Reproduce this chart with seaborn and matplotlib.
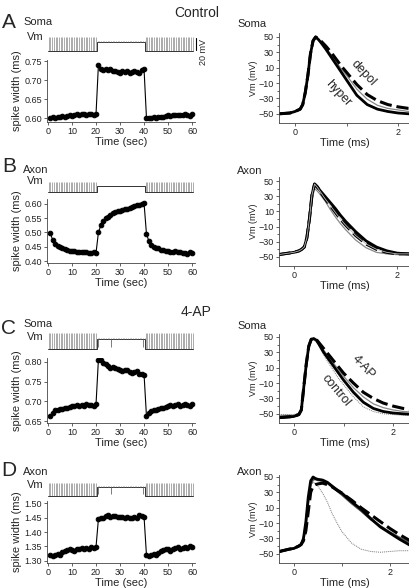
import numpy as np
import matplotlib
matplotlib.use("Agg")
import matplotlib.pyplot as plt
import seaborn as sns

sns.set_style("ticks")
plt.rcParams['font.family'] = ['Liberation Sans', 'DejaVu Sans']

W, H = 410, 588

# ---- spike width vs time (1 sample per second) ----
sec = np.arange(1, 61)

width_A = [0.600, 0.602, 0.601, 0.604, 0.603, 0.605, 0.604, 0.606, 0.607, 0.606,
           0.608, 0.610, 0.609, 0.610, 0.610, 0.609, 0.611, 0.610, 0.608, 0.610,
           0.740, 0.730, 0.726, 0.729, 0.727, 0.728, 0.725, 0.724, 0.722, 0.720,
           0.724, 0.722, 0.723, 0.720, 0.722, 0.723, 0.721, 0.720, 0.726, 0.728,
           0.600, 0.599, 0.601, 0.603, 0.600, 0.602, 0.604, 0.603, 0.606, 0.607,
           0.605, 0.608, 0.609, 0.608, 0.608, 0.607, 0.610, 0.607, 0.606, 0.610]

width_B = [0.497, 0.473, 0.460, 0.452, 0.449, 0.447, 0.443, 0.440, 0.436, 0.434,
           0.434, 0.433, 0.432, 0.431, 0.430, 0.430, 0.429, 0.427, 0.430, 0.428,
           0.500, 0.525, 0.540, 0.550, 0.555, 0.562, 0.568, 0.572, 0.574, 0.576,
           0.579, 0.582, 0.584, 0.587, 0.590, 0.593, 0.595, 0.596, 0.600, 0.602,
           0.495, 0.470, 0.457, 0.450, 0.447, 0.444, 0.440, 0.438, 0.436, 0.434,
           0.433, 0.432, 0.434, 0.431, 0.430, 0.429, 0.428, 0.426, 0.430, 0.428]

width_C = [0.662, 0.670, 0.677, 0.678, 0.680, 0.681, 0.682, 0.684, 0.685, 0.687,
           0.688, 0.690, 0.689, 0.690, 0.688, 0.692, 0.691, 0.690, 0.688, 0.692,
           0.806, 0.805, 0.797, 0.795, 0.790, 0.785, 0.788, 0.785, 0.782, 0.779,
           0.776, 0.780, 0.779, 0.774, 0.771, 0.775, 0.778, 0.770, 0.769, 0.768,
           0.662, 0.670, 0.676, 0.678, 0.679, 0.680, 0.682, 0.684, 0.686, 0.688,
           0.690, 0.689, 0.690, 0.692, 0.688, 0.690, 0.692, 0.691, 0.689, 0.692]

width_D = [1.320, 1.318, 1.322, 1.325, 1.322, 1.330, 1.335, 1.338, 1.342, 1.338,
           1.335, 1.340, 1.343, 1.345, 1.340, 1.345, 1.342, 1.348, 1.346, 1.348,
           1.445, 1.450, 1.448, 1.455, 1.460, 1.452, 1.456, 1.455, 1.453, 1.452,
           1.451, 1.450, 1.452, 1.448, 1.450, 1.452, 1.448, 1.460, 1.455, 1.452,
           1.320, 1.318, 1.322, 1.325, 1.322, 1.328, 1.335, 1.338, 1.342, 1.340,
           1.335, 1.340, 1.345, 1.348, 1.342, 1.345, 1.348, 1.345, 1.350, 1.348]

# ---- Vm traces (mV levels): hyper baseline, depol baseline, spike tops ----
stim_period = 0.7
vm_hyper = -70
vm_depol = {'A': -55, 'B': -60, 'C': -53, 'D': -55}
vm_peak = {'A': -47, 'B': -53, 'C': -43, 'D': -48}
vm_small = {'A': 2.5, 'B': 0, 'C': 1.5, 'D': 1.5}
dip_t = {'A': [], 'B': [], 'C': [20.8, 26.2, 39.4], 'D': [20.8, 26.2, 39.4]}

# ---- action potential waveforms ----
t_ap = [-0.3, -0.1, 0.0, 0.1, 0.15, 0.2, 0.25, 0.3, 0.35, 0.4, 0.45, 0.5,
        0.6, 0.7, 0.8, 0.9, 1.0, 1.2, 1.4, 1.6, 1.8, 2.0, 2.2, 2.45]

ap_A_hyper = [-50, -49, -47, -44, -38, -22, 0, 28, 45, 50, 47, 43,
              34, 24, 14, 4, -6, -26, -38, -44, -47, -49, -50, -51]
ap_A_depol = [-50, -49, -47, -44, -38, -22, 0, 28, 45, 50, 48, 45,
              38, 30, 21, 12, 4, -12, -25, -33, -38, -41, -43, -44]
ap_A_mid = [-50, -49, -47, -44, -38, -22, 0, 28, 45, 50, 47, 44,
            36, 27, 18, 8, 0, -18, -31, -39, -43, -45, -47, -48]

ap_B_slow = [-47, -45, -44, -42, -40, -37, -25, 0, 32, 46, 43, 38,
             30, 22, 14, 5, -3, -17, -29, -37, -42, -45, -46, -47]
ap_B_mid = [-47, -45, -44, -42, -40, -37, -25, 0, 32, 46, 42, 37,
            27, 18, 9, 0, -8, -22, -33, -40, -44, -46, -46, -47]
ap_B_fast = [-47, -45, -44, -42, -40, -37, -27, -4, 26, 40, 37, 33,
             24, 13, 3, -6, -14, -28, -38, -44, -46, -47, -47, -47]

ap_C_control = [-55, -54, -53.5, -51, -45, -15, 15, 38, 47, 48, 46, 41,
                30, 21, 12, 3, -6, -22, -35, -43, -47, -49, -50, -51]
ap_C_4ap = [-55, -54, -53.5, -51, -45, -15, 15, 38, 47, 48, 47, 43,
            35, 27, 19, 11, 3, -10, -22, -30, -36, -40, -43, -45]
ap_C_mid = [-52, -52, -52, -50, -45, -16, 14, 37, 46, 48, 46, 42,
            33, 24, 16, 7, -1, -16, -28, -37, -42, -45, -47, -48]
ap_C_narrow = [-51, -51, -51, -49, -44, -18, 12, 35, 45, 46, 44, 40,
               27, 16, 6, -4, -12, -28, -41, -47, -50, -51, -52, -52]

ap_D_solid = [-47, -44, -43, -40, -38, -30, -8, 24, 45, 50, 48, 47,
              46, 43, 38, 33, 29, 18, 8, -4, -15, -23, -31, -40]
ap_D_dash = [-47, -44, -43, -40, -38, -33, -20, 5, 30, 38, 40, 41,
             42, 40, 37, 33, 29, 20, 10, 1, -8, -17, -25, -34]
ap_D_mid = [-47, -44, -43, -40, -38, -31, -12, 18, 40, 47, 47, 46,
            45, 42, 37, 32, 27, 16, 6, -5, -14, -22, -29, -37]
ap_D_control = [-47, -44, -43, -40, -38, -30, -8, 24, 40, 43, 42, 38,
                29, 17, 2, -10, -21, -36, -44, -47, -48, -47, -46, -46]

fig = plt.figure(figsize=(W / 100, H / 100), dpi=100)


def box(x0, y0, x1, y1):
    return fig.add_axes([x0 / W, 1 - y1 / H, (x1 - x0) / W, (y1 - y0) / H])


def ftext(x, y, s, **kw):
    fig.text(x / W, 1 - y / H, s, **kw)


def style(ax):
    sns.despine(ax=ax)
    for sp in ['left', 'bottom']:
        ax.spines[sp].set_linewidth(0.6)
        ax.spines[sp].set_color('#444444')
    ax.tick_params(labelsize=6.5, length=2, width=0.5, pad=1.5,
                   colors='#222222')


def width_panel(ybox, data, ylim, yticks):
    ax = box(47, ybox[0], 195, ybox[1])
    sns.lineplot(x=sec, y=data, ax=ax, color='k', lw=0.8, marker='o',
                 markersize=3.3, markeredgecolor='k')
    ax.set_xlim(-0.4, 61.2)
    ax.set_ylim(*ylim)
    ax.set_xticks(range(0, 61, 10))
    ax.set_yticks(yticks)
    ax.set_yticklabels(['%.2f' % v for v in yticks])
    ax.set_xlabel('Time (sec)', fontsize=8, labelpad=0.5)
    ax.set_ylabel('spike width (ms)', fontsize=8, labelpad=2)
    style(ax)
    return ax


def vm_panel(base_py, key):
    ax = box(47, base_py - 19.2, 195, base_py + 4.8)
    ax.set_xlim(-0.4, 61.2)
    ax.set_ylim(-78, -38)
    ax.axis('off')
    dep = vm_depol[key]
    sp1 = np.arange(0.35, 20.3, stim_period)
    sp2 = np.arange(40.65, 60.5, stim_period)
    spikes = np.concatenate([sp1, sp2])
    ax.vlines(spikes, vm_hyper, vm_peak[key], color='#8a8a8a', lw=0.5)
    seg_t = [0, 20.3, 20.3, 40.3, 40.3, 60.5]
    seg_v = [vm_hyper, vm_hyper, dep, dep, vm_hyper, vm_hyper]
    ax.plot(seg_t, seg_v, color='#333333', lw=0.7)
    if vm_small[key] > 0:
        sp_dep = np.arange(20.65, 40.3, stim_period)
        ax.vlines(sp_dep, dep, dep + vm_small[key], color='#777777', lw=0.5)
    if dip_t[key]:
        ax.vlines(dip_t[key], vm_hyper + 3, dep, color='#666666', lw=0.6)
    return ax


def ap_panel(ybox, xlim, traces):
    ax = box(279, ybox[0], 410, ybox[1])
    for vals, kw in traces:
        sns.lineplot(x=t_ap, y=vals, ax=ax, **kw)
    ax.set_xlim(*xlim)
    ax.set_ylim(-62, ybox[2])
    ax.set_xticks([0, 1, 2])
    ax.set_xticklabels(['0', '', '2'])
    ax.set_yticks([50, 30, 10, -10, -30, -50])
    ax.set_yticks([40, 20, 0, -20, -40], minor=True)
    ax.tick_params(which='minor', length=1.5, width=0.5)
    ax.set_xlabel('Time (ms)', fontsize=8, labelpad=0.5)
    ax.set_ylabel('Vm (mV)', fontsize=6.5, labelpad=1, color='#222222')
    style(ax)
    return ax


solid = dict(color='k', lw=2.0)
dash = dict(color='k', lw=2.2, linestyle=(0, (4, 1.6)))
gray = dict(color='#888888', lw=0.9)
dotted = dict(color='#777777', lw=0.7, linestyle=(0, (1, 1)))
graythick = dict(color='#555555', lw=1.6)

# ---- A ----
width_panel((60, 122), width_A, (0.5895, 0.753), [0.60, 0.65, 0.70, 0.75])
axA = vm_panel(51, 'A')
axA.plot([61.8, 61.8], [-68, -48], color='k', lw=0.8, clip_on=False)
ftext(204, 52, '20 mV', fontsize=6.5, rotation=90, ha='center', va='center')
ap_panel((33, 123, 55.2), (-0.31, 2.23),
         [(ap_A_mid, gray), (ap_A_depol, dash), (ap_A_hyper, solid)])

# ---- B ----
width_panel((199, 263), width_B, (0.393, 0.6175),
            [0.40, 0.45, 0.50, 0.55, 0.60])
vm_panel(192, 'B')
ap_panel((177, 266, 55.3), (-0.29, 2.25),
         [(ap_B_fast, gray), (ap_B_mid, dash), (ap_B_slow, solid),
          (ap_B_mid, dict(color='#bbbbbb', lw=0.6))])

# ---- C ----
width_panel((358, 423), width_C, (0.645, 0.810), [0.65, 0.70, 0.75, 0.80])
vm_panel(349, 'C')
ap_panel((334, 423, 53.9), (-0.30, 2.34),
         [(ap_C_narrow, dotted), (ap_C_mid, gray), (ap_C_4ap, dash),
          (ap_C_control, solid)])

# ---- D ----
width_panel((501, 563), width_D, (1.293, 1.507),
            [1.30, 1.35, 1.40, 1.45, 1.50])
vm_panel(496, 'D')
ap_panel((475, 563, 52.6), (-0.31, 2.42),
         [(ap_D_control, dotted), (ap_D_mid, graythick), (ap_D_solid, solid),
          (ap_D_dash, dash)])

# ---- labels ----
ftext(197, 13, 'Control', fontsize=10, ha='center', va='center')
ftext(196, 312, '4-AP', fontsize=10, ha='center', va='center')
for letter, y in [('A', 22), ('B', 167), ('C', 329), ('D', 471)]:
    ftext(9, y, letter, fontsize=15, ha='center', va='center')
for s, y in [('Soma', 22), ('Axon', 170), ('Soma', 324), ('Axon', 472)]:
    ftext(23, y, s, fontsize=8, ha='left', va='center')
for y in [37.5, 181, 337, 485]:
    ftext(44, y, 'Vm', fontsize=8, ha='right', va='center')
for s, y in [('Soma', 24), ('Axon', 171), ('Soma', 326), ('Axon', 472)]:
    ftext(237, y, s, fontsize=8, ha='left', va='center')

ftext(363, 73, 'depol', fontsize=9, rotation=-47, ha='center', va='center',
      rotation_mode='anchor')
ftext(338, 93, 'hyper', fontsize=9, rotation=-47, ha='center', va='center',
      rotation_mode='anchor')
ftext(363, 367, '4-AP', fontsize=9, rotation=-47, ha='center', va='center',
      rotation_mode='anchor')
ftext(336, 391, 'control', fontsize=9, rotation=-50, ha='center', va='center',
      rotation_mode='anchor')

fig.savefig('out.png', dpi=100)
